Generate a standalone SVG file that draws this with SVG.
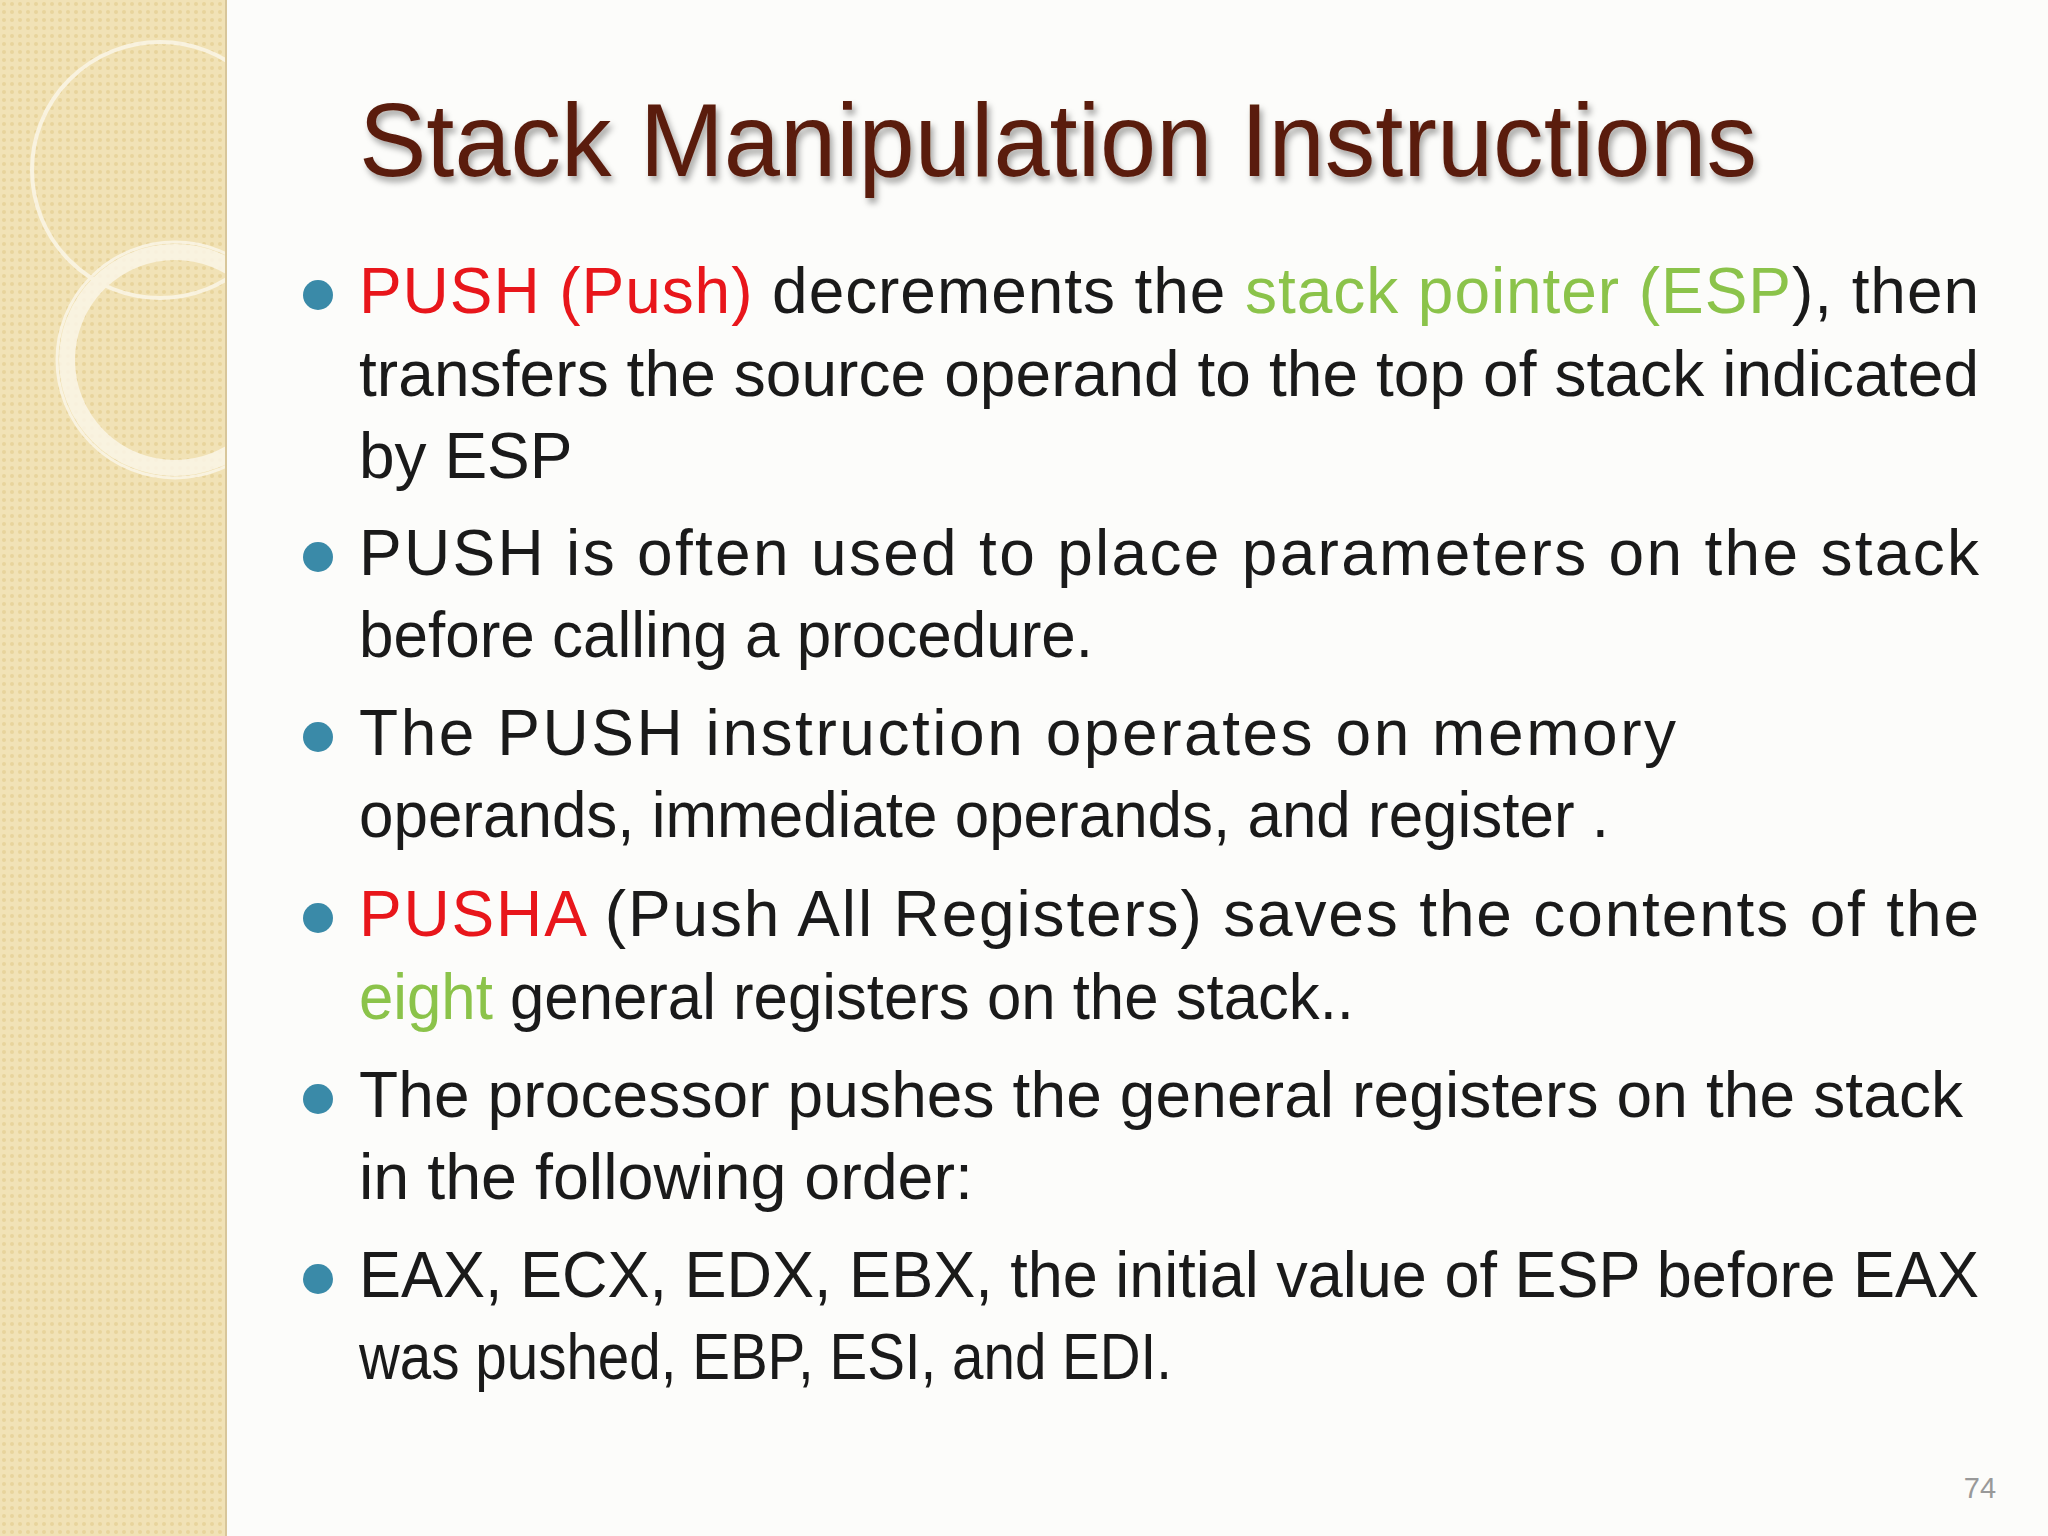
<svg xmlns="http://www.w3.org/2000/svg" width="2048" height="1536" viewBox="0 0 2048 1536">
<defs>
<pattern id="dots" width="8" height="8" patternUnits="userSpaceOnUse"><rect width="8" height="8" fill="#f1e2b6"/><circle cx="4" cy="4" r="2" fill="#e8d49c"/></pattern>
<filter id="sh" x="-5%" y="-20%" width="110%" height="150%"><feDropShadow dx="3" dy="5" stdDeviation="3" flood-color="#000" flood-opacity="0.35"/></filter>
<clipPath id="c"><rect width="226" height="1536"/></clipPath>
</defs>
<style>
.t{font-family:"Liberation Sans",Arial,sans-serif;font-size:64px;fill:#1a1a1a}
.r{fill:#e8161b}.g{fill:#8bc34a}
.b{fill:#3a8aa8}
</style>
<rect width="2048" height="1536" fill="#fcfcfa"/>
<rect width="226" height="1536" fill="url(#dots)"/>
<g clip-path="url(#c)" fill="none" stroke="#fbf6e8" opacity="0.85">
<circle cx="160" cy="170" r="128" stroke-width="4"/>
<circle cx="175" cy="360" r="108" stroke-width="16"/>
<circle cx="175" cy="360" r="118" stroke-width="3"/>
</g>
<line x1="226" y1="0" x2="226" y2="1536" stroke="#d8c69a" stroke-width="2"/>
<text x="359" y="176" font-family="Liberation Sans, Arial, sans-serif" font-size="104" fill="#5a1d0e" filter="url(#sh)" textLength="1398" lengthAdjust="spacingAndGlyphs">Stack Manipulation Instructions</text>
<g class="b"><circle cx="318" cy="295" r="15"/><circle cx="318" cy="557" r="15"/><circle cx="318" cy="737" r="15"/><circle cx="318" cy="918" r="15"/><circle cx="318" cy="1099" r="15"/><circle cx="318" cy="1279" r="15"/></g>
<g class="t">
<text x="359" y="313" textLength="1620" lengthAdjust="spacing"><tspan class="r">PUSH (Push)</tspan> decrements the <tspan class="g">stack pointer (ESP</tspan>), then</text>
<text x="359" y="396" textLength="1620" lengthAdjust="spacing">transfers the source operand to the top of stack indicated</text>
<text x="359" y="478">by ESP</text>
<text x="359" y="575" textLength="1620" lengthAdjust="spacing">PUSH is often used to place parameters on the stack</text>
<text x="359" y="657" textLength="734" lengthAdjust="spacingAndGlyphs">before calling a procedure.</text>
<text x="359" y="755" textLength="1317" lengthAdjust="spacing">The PUSH instruction operates on memory</text>
<text x="359" y="837" textLength="1250" lengthAdjust="spacingAndGlyphs">operands, immediate operands, and register .</text>
<text x="359" y="936" textLength="1620" lengthAdjust="spacing"><tspan class="r">PUSHA</tspan> (Push All Registers) saves the contents of the</text>
<text x="359" y="1019" textLength="995" lengthAdjust="spacingAndGlyphs"><tspan class="g">eight</tspan> general registers on the stack..</text>
<text x="359" y="1117" textLength="1604" lengthAdjust="spacing">The processor pushes the general registers on the stack</text>
<text x="359" y="1199" textLength="614" lengthAdjust="spacingAndGlyphs">in the following order:</text>
<text x="359" y="1297" textLength="1620" lengthAdjust="spacingAndGlyphs">EAX, ECX, EDX, EBX, the initial value of ESP before EAX</text>
<text x="359" y="1379" textLength="813" lengthAdjust="spacingAndGlyphs">was pushed, EBP, ESI, and EDI.</text>
</g>
<text x="1980" y="1498" font-family="Liberation Sans, Arial, sans-serif" font-size="29" fill="#999" text-anchor="middle">74</text>
</svg>
